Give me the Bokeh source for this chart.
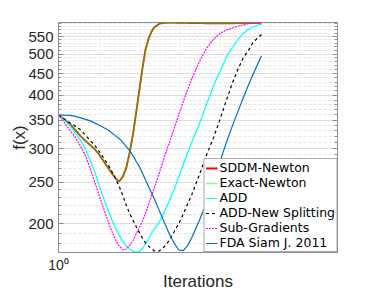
from bokeh.plotting import figure
from bokeh.models import (FixedTicker, LogAxis, Legend, LegendItem, NumeralTickFormatter,
                          Range1d, CustomJSTickFormatter)
from bokeh.embed import file_html
from bokeh.resources import INLINE

iterations = [1.0, 1.05, 1.1, 1.15, 1.2, 1.25, 1.3, 1.35, 1.4, 1.45, 1.5, 1.55, 1.6, 1.65,
              1.7, 1.75, 1.8, 1.85, 1.9, 1.95, 2.0, 2.05, 2.1, 2.15, 2.2, 2.3, 2.4, 2.5,
              2.6, 2.7, 2.8, 2.9, 3.0, 3.2, 3.4, 3.6, 3.8, 4.0, 4.2, 4.4, 4.6, 4.8, 5.0, 5.34]

sddm_newton = [360.5, 351.0, 342.5, 331.4, 321.1, 312.7, 305.7, 299.0, 290.1, 280.4, 271.3,
               263.1, 255.5, 251.0, 257.8, 270.7, 294.0, 324.8, 365.8, 412.7, 463.5, 512.3,
               542.2, 563.1, 577.9, 589.6, 592.1, 592.8, 592.8, 592.6, 592.3, 592.0, 591.7,
               591.3, 591.0, 590.9, 590.9, 591.0, 591.1, 591.2, 591.4, 591.6, 591.9, 592.2]

exact_newton = [360.5, 351.0, 342.5, 331.4, 321.1, 312.7, 305.7, 299.0, 290.1, 280.4, 271.3,
                263.1, 255.5, 251.0, 257.8, 270.7, 294.0, 324.8, 365.8, 412.7, 463.5, 512.3,
                542.2, 563.1, 577.9, 589.6, 592.1, 592.8, 592.8, 592.6, 592.3, 592.0, 591.7,
                591.3, 591.0, 590.9, 590.9, 591.0, 591.1, 591.2, 591.4, 591.6, 591.9, 592.2]

add = [360.5, 349.6, 339.2, 326.0, 313.8, 298.9, 281.1, 263.8, 245.6, 229.6, 216.4, 204.4,
       195.4, 188.1, 181.5, 177.1, 174.3, 172.2, 171.3, 172.0, 174.7, 179.5, 183.4, 189.0,
       193.6, 201.6, 213.6, 226.8, 240.9, 257.7, 274.8, 292.5, 309.4, 343.7, 382.6, 422.6,
       457.3, 492.7, 518.4, 541.9, 559.4, 572.3, 580.1, 589.0]

add_new_splitting = [360.5, 352.0, 344.9, 338.8, 332.1, 322.5, 313.4, 305.1, 295.3, 285.4,
                     276.0, 265.9, 255.2, 244.9, 232.7, 220.8, 211.1, 203.7, 196.6, 190.4,
                     184.7, 180.2, 177.1, 174.9, 172.6, 172.5, 176.7, 182.9, 191.5, 200.2,
                     210.5, 221.9, 233.4, 260.7, 290.6, 319.2, 352.6, 390.3, 427.9, 461.5,
                     491.1, 511.2, 534.6, 556.0]

sub_gradients = [360.5, 345.1, 331.2, 318.7, 303.6, 289.0, 269.1, 249.8, 232.6, 217.2, 203.7,
                 192.6, 183.2, 177.1, 173.5, 174.3, 177.6, 182.4, 189.1, 195.9, 202.9, 211.1,
                 221.3, 231.8, 241.7, 263.3, 287.6, 310.7, 335.0, 360.9, 387.2, 412.0, 436.8,
                 480.3, 517.0, 542.8, 560.0, 570.2, 576.0, 582.0, 585.8, 589.9, 590.8, 591.9]

fda_siam_2011 = [360.5, 359.7, 359.0, 357.2, 354.3, 351.5, 348.6, 344.3, 340.3, 336.4, 332.3,
                 326.9, 321.8, 317.0, 310.2, 303.4, 296.9, 288.4, 279.8, 272.2, 262.5, 253.0,
                 244.6, 236.5, 229.2, 214.2, 200.5, 188.8, 179.7, 173.3, 172.8, 177.5, 184.9,
                 203.6, 224.4, 251.4, 281.0, 310.4, 339.2, 367.0, 395.7, 423.8, 450.9, 495.9]

series_labels = ["SDDM-Newton", "Exact-Newton", "ADD", "ADD-New Splitting",
                 "Sub-Gradients", "FDA Siam J. 2011"]

y_ticks = [200, 250, 300, 350, 400, 450, 500, 550]
y_minor_ticks = [180, 190, 210, 220, 230, 240, 260, 270, 280, 290, 310, 320, 330, 340,
                 360, 370, 380, 390, 410, 420, 430, 440, 460, 470, 480, 490, 510, 520,
                 530, 540, 560, 570, 580, 590]
x_ticks = [1]
x_tick_labels = {1: "10\u2070"}

FONT = "Liberation Sans"
LEGEND_FONT = "DejaVu Sans"
AXIS_GRAY = "#8f8f8f"
TEXT = "#262626"

p = figure(width=381, height=294, x_axis_type="log", y_axis_type="log",
           x_range=Range1d(1, 10), y_range=Range1d(171, 593.5),
           output_backend="svg", toolbar_location=None,
           min_border_left=58, min_border_right=44, min_border_top=22, min_border_bottom=42,
           background_fill_color="white", border_fill_color="white")

p.outline_line_color = AXIS_GRAY
p.outline_line_width = 1

# axes
p.xaxis.ticker = FixedTicker(ticks=x_ticks, minor_ticks=[])
p.xaxis.major_label_overrides = x_tick_labels
p.yaxis.ticker = FixedTicker(ticks=y_ticks, minor_ticks=y_minor_ticks)
p.yaxis.formatter = NumeralTickFormatter(format="0")
p.xaxis.axis_label = "Iterations"
p.yaxis.axis_label = "f(x)"
for ax in (p.xaxis, p.yaxis):
    ax.axis_line_color = AXIS_GRAY
    ax.major_tick_line_color = AXIS_GRAY
    ax.minor_tick_line_color = AXIS_GRAY
    ax.major_tick_in = 5
    ax.major_tick_out = 0
    ax.minor_tick_in = 3
    ax.minor_tick_out = 0
    ax.major_label_text_font = FONT
    ax.major_label_text_color = TEXT
    ax.axis_label_text_font = FONT
    ax.axis_label_text_font_style = "normal"
    ax.axis_label_text_color = TEXT
    ax.axis_label_text_font_size = "17px"
p.yaxis.major_label_text_font_size = "15px"
p.yaxis.major_label_standoff = 5
p.yaxis.axis_label_standoff = -4
p.xaxis.major_label_text_font_size = "14px"
p.xaxis.major_label_standoff = 4
p.xaxis.axis_label_standoff = -4

right_axis = LogAxis(ticker=FixedTicker(ticks=y_ticks, minor_ticks=y_minor_ticks),
                     formatter=CustomJSTickFormatter(code="return ''"),
                     axis_line_color=AXIS_GRAY,
                     major_tick_line_color=AXIS_GRAY, minor_tick_line_color=AXIS_GRAY,
                     major_tick_in=5, major_tick_out=0, minor_tick_in=3, minor_tick_out=0,
                     major_label_standoff=0)
p.add_layout(right_axis, "right")

# grid
p.xgrid.grid_line_color = None
p.ygrid.grid_line_color = "#dedede"
p.ygrid.grid_line_width = 1
p.ygrid.minor_grid_line_color = "#e6e6e6"
p.ygrid.minor_grid_line_dash = "3 2"

r1 = p.line(iterations, sddm_newton, line_color="#ff0000", line_width=1.8)
r2 = p.line(iterations, exact_newton, line_color="#00ff00", line_width=1.5, line_alpha=0.5)
r3 = p.line(iterations, add, line_color="#00ffff", line_width=1.2)
r4 = p.line(iterations, add_new_splitting, line_color="black", line_width=1.2, line_dash="3 3")
r5 = p.line(iterations, sub_gradients, line_color="#ff00ff", line_width=1.2, line_dash="2 1")
r6 = p.line(iterations, fda_siam_2011, line_color="#0072bd", line_width=1.2)

items = [LegendItem(label=lab, renderers=[r]) for lab, r in
         zip(series_labels, [r1, r2, r3, r4, r5, r6])]
legend = Legend(items=items, location="bottom_right", margin=0, padding=1, spacing=0,
                label_text_font=LEGEND_FONT, label_text_font_size="12.5px",
                label_text_color="black",
                label_height=12, glyph_height=12, glyph_width=12, label_standoff=2,
                border_line_color="#555555", border_line_width=1,
                background_fill_color="white", background_fill_alpha=1.0)
p.add_layout(legend)

open("out.html", "w").write(file_html(p, INLINE))
